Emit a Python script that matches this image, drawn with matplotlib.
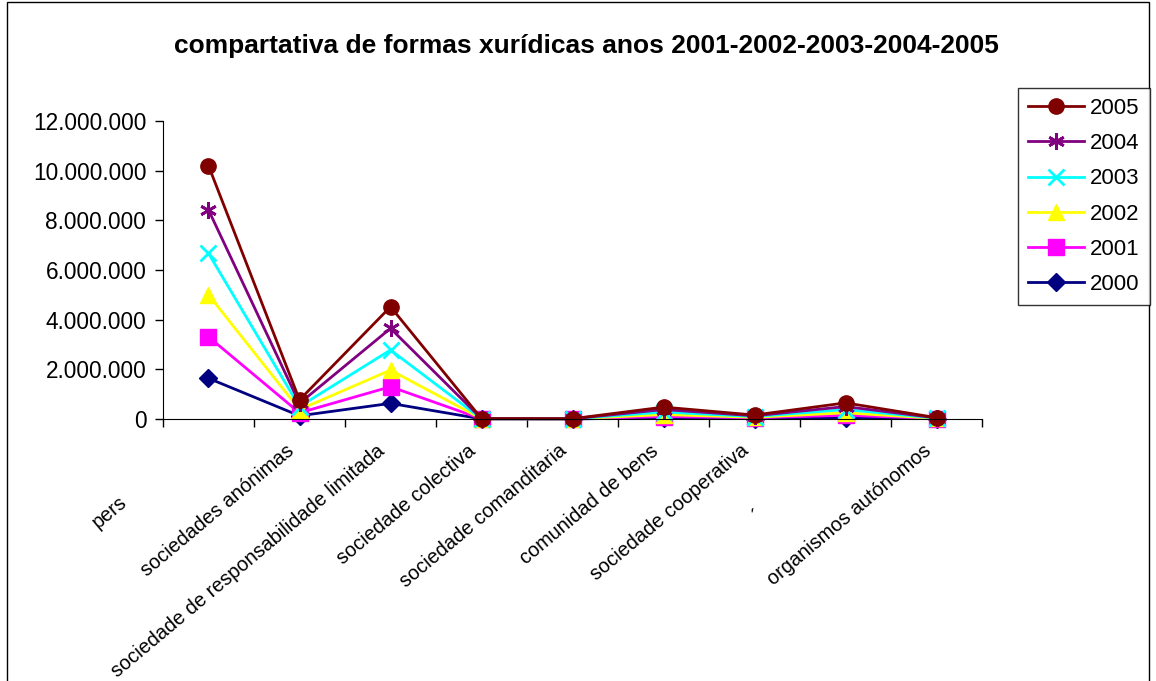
import numpy as np
import matplotlib
matplotlib.use("Agg")
import matplotlib.pyplot as plt
from matplotlib.ticker import FuncFormatter, FixedLocator, NullFormatter
from matplotlib.patches import Rectangle

plt.rcParams['font.family'] = ['Liberation Sans', 'DejaVu Sans']

# === Données ===
categorias = ["pers", "sociedades anónimas", "sociedade de responsabilidade limitada",
              "sociedade colectiva", "sociedade comanditaria", "comunidad de bens",
              "sociedade cooperativa", "´", "organismos autónomos"]
# décalage des étiquettes (en pixels); les tronquées sont plus loin de l'axe
decalage_normal = (-14, -22)
tronquees = {0: (-90, -73), 7: (-91, -87)}

v2000 = [1640000, 130000, 630000, 5000, 3000, 50000, 20000, 60000, 10000]
v2001 = [3310000, 250000, 1300000, 8000, 5000, 100000, 50000, 150000, 20000]
v2002 = [5000000, 380000, 1970000, 10000, 7000, 180000, 70000, 250000, 25000]
v2003 = [6670000, 500000, 2780000, 12000, 9000, 280000, 100000, 380000, 35000]
v2004 = [8420000, 630000, 3650000, 15000, 11000, 380000, 130000, 500000, 45000]
v2005 = [10200000, 770000, 4520000, 18000, 13000, 480000, 160000, 650000, 55000]

anos = ["2000", "2001", "2002", "2003", "2004", "2005"]
series = [v2000, v2001, v2002, v2003, v2004, v2005]
cores = ["#000080", "#FF00FF", "#FFFF00", "#00FFFF", "#800080", "#800000"]
marcadores = ["D", "s", "^", "x", (6, 2, 0), "o"]
tamanhos = [9, 11, 11, 11, 12, 11]

fig = plt.figure(figsize=(11.56, 6.81), dpi=100)
ax = fig.add_axes([0.141, 0.3847, 0.7085, 0.4376])

x = np.arange(len(categorias))
linhas = []
for s, c, m, ms, a in zip(series, cores, marcadores, tamanhos, anos):
    l, = ax.plot(x, s, color=c, marker=m, markersize=ms, linewidth=2,
                 markeredgewidth=2 if m in ("x", (6, 2, 0)) else 1,
                 markeredgecolor=c, markerfacecolor=c, label=a, clip_on=False)
    linhas.append(l)

ax.set_xlim(-0.5, len(categorias) - 0.5)
ax.set_ylim(0, 12000000)
ax.set_yticks(np.arange(0, 12000001, 2000000))
ax.yaxis.set_major_formatter(FuncFormatter(lambda v, p: f"{int(v):,}".replace(",", ".")))
ax.tick_params(axis='y', labelsize=16.3, direction='out', length=6, width=1, pad=6)

# ticks entre catégories
ax.xaxis.set_major_locator(FixedLocator(np.arange(-0.5, len(categorias), 1.0)))
ax.xaxis.set_major_formatter(NullFormatter())
ax.tick_params(axis='x', which='major', direction='out', length=6, width=1)

for i, cat in enumerate(categorias):
    dx, dy = tronquees.get(i, decalage_normal)
    ax.annotate(cat, xy=(i, 0), xycoords=('data', 'axes fraction'),
                xytext=(dx, dy), textcoords='offset pixels', fontsize=14.3,
                rotation=40, rotation_mode='anchor', ha='right', va='top',
                annotation_clip=False)

ax.spines['top'].set_visible(False)
ax.spines['right'].set_visible(False)

fig.text(0.507, 0.932, "compartativa de formas xurídicas anos 2001-2002-2003-2004-2005",
         ha='center', va='center', fontsize=19, fontweight='bold')

leg = fig.legend(linhas[::-1], anos[::-1], loc='upper right',
                 bbox_to_anchor=(0.9948, 0.871), fontsize=16, frameon=True,
                 fancybox=False, edgecolor='black', handlelength=2.5,
                 handletextpad=0.3, labelspacing=0.64, borderpad=0.45,
                 borderaxespad=0)
leg.get_frame().set_linewidth(1)

fig.patches.append(Rectangle((0.006, -0.05), 0.988, 1.047, transform=fig.transFigure,
                             fill=False, edgecolor='black', linewidth=1))

fig.savefig("out.png", dpi=100)
